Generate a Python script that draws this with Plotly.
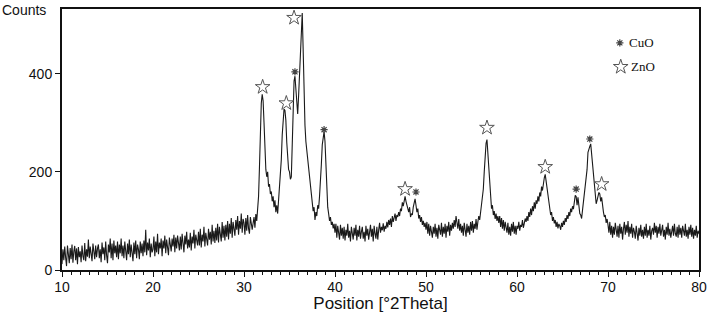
import plotly.graph_objects as go

scan_start = 10.0
scan_step = 0.1
counts = [
    12, 42, 20, 48, 25, 8, 50, 28, 14, 45,
    22, 52, 15, 38, 49, 20, 44, 12, 47, 26,
    38, 16, 50, 28, 20, 55, 18, 42, 27, 62,
    24, 48, 30, 18, 54, 38, 22, 50, 26, 44,
    52, 24, 42, 16, 56, 32, 46, 20, 58, 30,
    14, 52, 36, 64, 24, 54, 20, 60, 34, 50,
    26, 58, 22, 52, 34, 64, 28, 50, 24, 58,
    44, 20, 54, 32, 62, 26, 52, 38, 18, 56,
    32, 60, 24, 52, 42, 22, 58, 34, 54, 28,
    60, 36, 82, 30, 56, 40, 64, 26, 54, 36,
    42, 68, 28, 58, 36, 74, 32, 56, 44, 64,
    28, 60, 44, 70, 34, 62, 42, 30, 66, 46,
    38, 64, 48, 72, 36, 66, 44, 70, 50, 40,
    68, 42, 74, 50, 36, 70, 52, 78, 44, 62,
    46, 76, 40, 68, 54, 82, 44, 72, 58, 50,
    78, 50, 84, 46, 72, 58, 88, 48, 76, 60,
    50, 84, 62, 78, 52, 92, 58, 80, 55, 86,
    60, 94, 56, 88, 68, 58, 98, 66, 90, 60,
    92, 68, 100, 62, 94, 74, 106, 66, 98, 78,
    70, 102, 82, 110, 72, 100, 84, 115, 76, 104,
    96, 72, 106, 80, 112, 84, 74, 108, 90, 82,
    95, 108, 86, 114, 100, 120, 150, 210, 290, 340,
    358, 345, 300, 240, 205, 190, 200, 170, 175, 155,
    160, 140, 150, 128, 142, 118, 132, 115, 138, 165,
    190, 225, 275, 315, 328, 325, 305, 260, 220, 205,
    200, 185, 190, 260, 340, 385, 395, 360, 330, 318,
    355, 405, 415, 490, 524, 450, 360, 295, 262, 245,
    228, 205, 180, 165, 148, 135, 120, 128, 102, 118,
    110, 132, 125, 150, 175, 215, 255, 275, 282, 262,
    205, 160, 128, 115, 100, 108, 92, 98, 85, 94,
    76, 94, 66, 90, 78, 62, 92, 70, 86, 64,
    88, 60, 82, 70, 94, 66, 80, 58, 88, 72,
    62, 86, 70, 92, 60, 82, 68, 90, 64, 78,
    88, 64, 78, 58, 90, 70, 84, 62, 80, 92,
    68, 84, 58, 90, 74, 64, 88, 62, 82, 96,
    76, 88, 81, 95, 78, 90, 84, 98, 87, 102,
    92, 105, 88, 110, 98, 104, 115, 100, 112, 108,
    118, 110, 125, 120, 138, 130, 145, 150, 140, 132,
    125, 118, 128, 108, 115, 112, 128, 140, 145, 132,
    118, 125, 105, 112, 98, 108, 92, 100, 88, 96,
    82, 98, 74, 94, 70, 90, 80, 66, 88, 74,
    94, 68, 86, 64, 92, 78, 72, 96, 68, 88,
    74, 94, 66, 90, 78, 98, 70, 92, 80, 96,
    84, 102, 88, 110, 94, 84, 104, 80, 94, 76,
    90, 70, 96, 80, 68, 94, 76, 90, 72, 98,
    80, 100, 76, 94, 84, 104, 82, 98, 110, 102,
    118, 125, 140, 165, 200, 240, 258, 266, 235, 195,
    165, 140, 125, 132, 112, 120, 104, 115, 100, 110,
    96, 110, 88, 106, 84, 102, 80, 98, 88, 76,
    96, 72, 88, 70, 94, 78, 98, 74, 90, 72,
    90, 84, 98, 80, 92, 88, 102, 86, 95, 105,
    98, 110, 100, 118, 108, 125, 112, 130, 120, 138,
    125, 142, 135, 150, 140, 158, 150, 170, 162, 180,
    188, 195, 182, 165, 150, 135, 128, 112, 118, 100,
    108, 95, 102, 88, 98, 85, 94, 90, 82, 96,
    88, 100, 92, 106, 98, 112, 104, 118, 110, 125,
    118, 130, 124, 140, 152, 150, 132, 148, 125, 115,
    112, 105, 122, 140, 160, 175, 185, 205, 240, 250,
    252, 257, 238, 222, 195, 172, 160, 135, 142, 150,
    158, 155, 140, 148, 125, 118, 108, 112, 96, 104,
    92, 76, 98, 72, 90, 66, 88, 72, 96, 78,
    68, 90, 66, 94, 74, 88, 62, 84, 98, 72,
    92, 76, 100, 68, 88, 74, 94, 66, 86, 78,
    64, 90, 72, 60, 86, 70, 92, 68, 82, 64,
    88, 70, 94, 66, 82, 70, 90, 62, 80, 86,
    72, 96, 76, 90, 66, 88, 74, 94, 70, 84,
    92, 68, 82, 62, 88, 72, 96, 70, 84, 66,
    82, 90, 70, 94, 74, 68, 88, 66, 92, 72,
    86, 66, 90, 74, 70, 94, 68, 82, 64, 88,
    72, 92, 68, 86, 64, 82, 70, 90, 66, 80,
    74,
]
two_theta = [round(scan_start + i * scan_step, 1) for i in range(len(counts))]

# Phase markers (position, marker height)
zno_pos = [32.05, 34.65, 35.5, 47.7, 56.7, 63.1, 69.3]
zno_h = [373, 340, 514, 165, 290, 210, 175]
cuo_pos = [35.6, 38.8, 48.9, 66.5, 68.0]
cuo_h = [404, 286, 159, 165, 267]

x_ticks = [10, 20, 30, 40, 50, 60, 70, 80]
y_ticks = [0, 200, 400]

star_marker = dict(symbol="star-open", size=11, color="#555", line=dict(width=1, color="#555"))
ast_marker = dict(symbol="asterisk-open", size=6, color="#444", line=dict(width=1.2, color="#444"))

fig = go.Figure()
fig.add_trace(go.Scatter(x=two_theta, y=counts, mode="lines",
                         line=dict(color="#1a1a1a", width=1.1), showlegend=False))
fig.add_trace(go.Scatter(x=zno_pos, y=zno_h, mode="markers", marker=star_marker, showlegend=False))
fig.add_trace(go.Scatter(x=cuo_pos, y=cuo_h, mode="markers", marker=ast_marker, showlegend=False))
# key in the upper right
fig.add_trace(go.Scatter(x=[71.3], y=[463], mode="markers", marker=ast_marker, showlegend=False))
fig.add_trace(go.Scatter(x=[71.4], y=[414], mode="markers", marker=star_marker, showlegend=False))
fig.add_annotation(x=72.1, y=463, text="CuO", showarrow=False, xanchor="left",
                   font=dict(family="Liberation Serif", size=13, color="#111"))
fig.add_annotation(x=72.3, y=414, text="ZnO", showarrow=False, xanchor="left",
                   font=dict(family="Liberation Serif", size=13, color="#111"))
fig.add_annotation(x=0, y=1, xref="paper", yref="paper", xshift=-62, yshift=9,
                   text="Counts", showarrow=False, xanchor="left", yanchor="top",
                   font=dict(family="Liberation Sans", size=14, color="#111"))

fig.update_layout(
    width=708, height=313,
    margin=dict(l=62, r=9, t=9, b=43, autoexpand=False),
    paper_bgcolor="white", plot_bgcolor="white",
    font=dict(family="Liberation Sans", size=14, color="#111"),
    hovermode=False,
)
fig.update_xaxes(range=[10, 80], tickvals=x_ticks, ticks="outside", ticklen=5,
                 tickwidth=1, tickcolor="#111", showline=True, linecolor="#111",
                 linewidth=2, mirror=True, showgrid=False, zeroline=False,
                 automargin=False, ticklabelstandoff=-2,
                 minor=dict(dtick=1, ticks="outside", ticklen=3, tickcolor="#111"),
                 title=dict(text="Position [°2Theta]", standoff=6))
fig.update_yaxes(range=[0, 532], tickvals=y_ticks, ticks="outside", ticklen=5,
                 tickwidth=1, tickcolor="#111", showline=True, linecolor="#111",
                 linewidth=2, mirror=True, showgrid=False, zeroline=False,
                 automargin=False)

fig.write_html("out.html", config={"displayModeBar": False},
               post_script="document.body.style.margin='0';")
